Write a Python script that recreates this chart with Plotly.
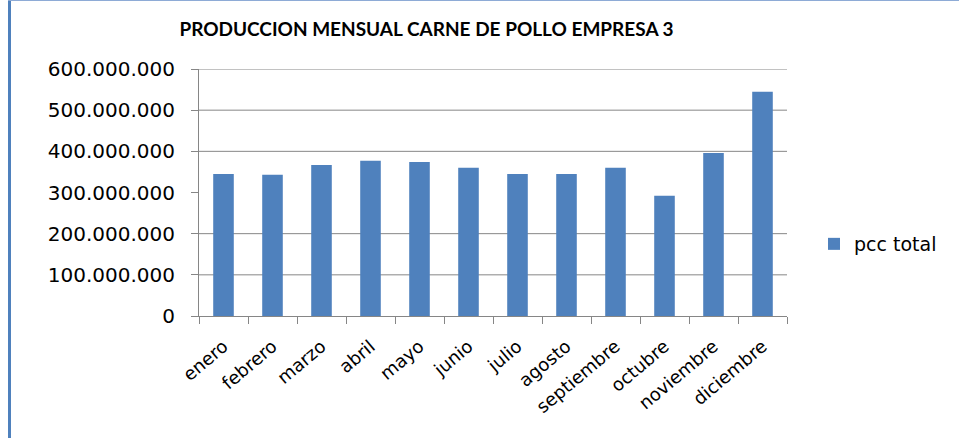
import plotly.graph_objects as go

months = ["enero", "febrero", "marzo", "abril", "mayo", "junio", "julio",
          "agosto", "septiembre", "octubre", "noviembre", "diciembre"]
pcc_total = [345000000, 343000000, 367000000, 377000000, 374000000, 360000000,
             345000000, 345000000, 360000000, 292000000, 396000000, 545000000]
y_ticks = [0, 100000000, 200000000, 300000000, 400000000, 500000000, 600000000]
series_name = "pcc total"
title_text = "PRODUCCION MENSUAL CARNE DE POLLO EMPRESA 3"

BAR = "#4F81BD"
GRID = "#868686"
W, H = 959, 438
ML, MR, MT, MB = 199, 172, 69, 122
PW, PH = W - ML - MR, H - MT - MB

def px_x(p):
    return (p - ML) / PW

def px_y(p):
    return (H - MB - p) / PH

fig = go.Figure()
fig.add_trace(go.Bar(x=months, y=pcc_total, name=series_name,
                     marker=dict(color=BAR, line=dict(width=0))))

shapes = []
# gridlines (the 300M line is not visible in the reference)
for v in y_ticks:
    if v in (0, 300000000):
        continue
    shapes.append(dict(type="line", xref="paper", yref="y", x0=0, x1=1, y0=v, y1=v,
                       line=dict(color=GRID, width=1), layer="below"))
# outer frame pieces (blue left edge and top edge)
shapes.append(dict(type="line", xref="paper", yref="paper",
                   x0=px_x(9.5), x1=px_x(9.5), y0=px_y(H), y1=px_y(0),
                   line=dict(color=BAR, width=3)))
shapes.append(dict(type="line", xref="paper", yref="paper",
                   x0=px_x(8), x1=px_x(W), y0=px_y(0.5), y1=px_y(0.5),
                   line=dict(color="#8EABD6", width=1)))

fig.update_layout(
    width=W, height=H,
    margin=dict(l=ML, r=MR, t=MT, b=MB),
    paper_bgcolor="white", plot_bgcolor="white",
    separators=",.",
    title=dict(text="<b>" + title_text + "</b>", xref="paper", x=px_x(426.5),
               xanchor="center", y=1 - 29 / H, yanchor="middle",
               font=dict(family="Lato", size=19, color="black")),
    font=dict(family="DejaVu Sans", color="black"),
    bargap=0.58,
    showlegend=True,
    legend=dict(x=px_x(814), y=px_y(244), xanchor="left", yanchor="middle",
                font=dict(family="DejaVu Sans", size=19, color="black"),
                bgcolor="rgba(0,0,0,0)", itemwidth=30),
    shapes=shapes,
    xaxis=dict(type="category", tickangle=-40, tickson="boundaries",
               ticks="outside", ticklen=7, tickcolor=GRID,
               showline=True, linecolor=GRID, linewidth=1, showgrid=False,
               ticklabelstandoff=12,
               tickfont=dict(family="DejaVu Sans", size=18, color="black")),
    yaxis=dict(range=[0, 600000000], tickvals=y_ticks, tickformat=",d",
               ticks="outside", ticklen=7, tickcolor=GRID,
               showline=True, linecolor=GRID, linewidth=1, showgrid=False,
               zeroline=False, ticklabelstandoff=12,
               tickfont=dict(family="DejaVu Sans", size=20, color="black")),
)

fig.write_html("out.html",
               config={"displayModeBar": False},
               post_script="document.body.style.margin='0';"
                           "document.body.style.overflow='hidden';")
